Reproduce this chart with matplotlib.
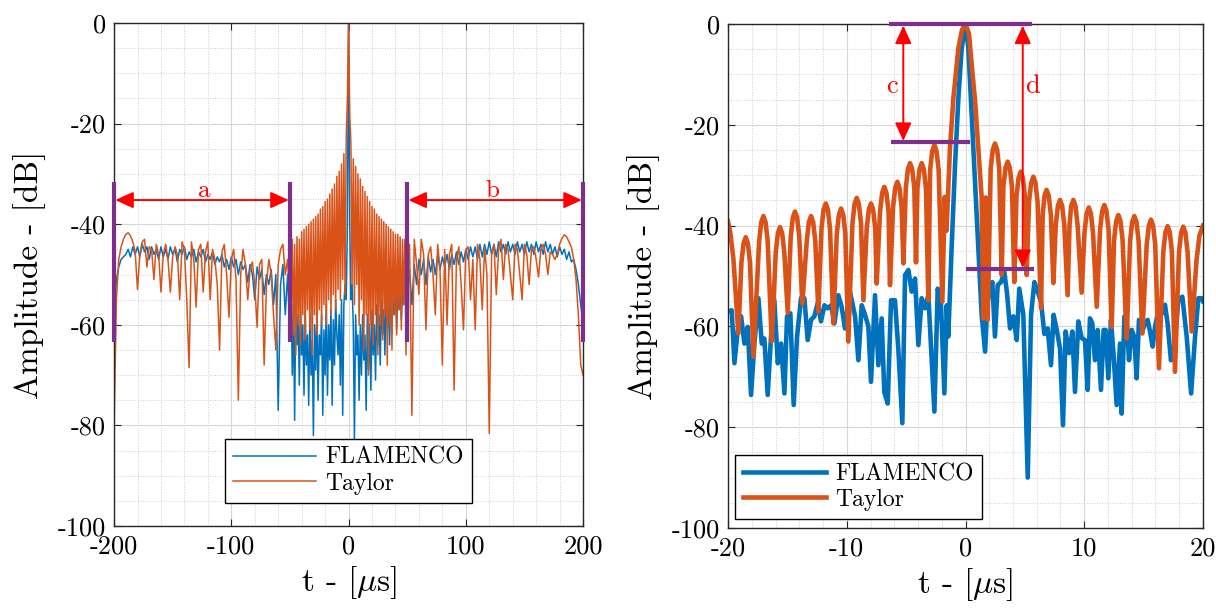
import numpy as np
import matplotlib
matplotlib.use('Agg')
import matplotlib.pyplot as plt
from matplotlib.ticker import MultipleLocator

plt.rcParams['font.family'] = ['cmr10', 'DejaVu Serif']
plt.rcParams['mathtext.fontset'] = 'cm'
plt.rcParams['axes.unicode_minus'] = False
plt.rcParams['axes.formatter.use_mathtext'] = True

# ---------------- left panel: full range, t in us ----------------
t_out_l = np.arange(-200, -49, 2)
t_mid = np.arange(-49, 50, 1)
t_out_r = np.arange(50, 201, 2)

flam_out_l = [-58, -51, -48.5, -47, -46.5, -46, -45, -46.5, -44.5, -46,
              -44.5, -46.5, -44, -45.5, -44.5, -47, -44.5, -46, -45, -47,
              -44.5, -46.5, -45, -47, -44.5, -46, -45, -47.5, -45, -46,
              -44.5, -47, -45.5, -46.5, -45, -47.5, -45.5, -46.5, -45, -47.5,
              -46, -47, -45.5, -48, -46.5, -47.5, -46, -48.5, -47, -49,
              -46.5, -48.5, -47, -50, -47.5, -49, -48, -51.5, -48, -50,
              -55, -48.5, -51, -49, -54, -50, -52, -49, -56, -50,
              -77, -52, -48, -58, -50, -62]
tay_out_l = [-80, -55, -47, -44.5, -43, -42, -41.7, -42.3, -43.5, -45.5,
             -53, -46, -43.5, -43, -48.5, -44.5, -45, -51, -44, -46,
             -53.5, -46, -44, -47, -53.5, -46.5, -44.5, -46, -55, -43.5,
             -45, -55, -68.5, -43.5, -47, -56.5, -45, -44, -53.5, -45.5,
             -43.5, -55, -45, -47, -52, -65, -45.5, -44, -50, -58.5,
             -47, -45, -51, -75, -50, -45, -48, -55, -49, -47.5,
             -52, -60.5, -48, -47, -68, -52, -47, -50, -58, -65,
             -48, -45, -44, -50, -47, -57]

flam_mid = [-52, -70, -56, -79, -55, -64, -58, -72, -56, -66,
            -60, -74, -57, -68, -62, -76, -58, -70, -63, -82,
            -60, -69, -57, -75, -62, -66, -58, -78, -61, -70,
            -56, -74, -60, -67, -57, -76, -59, -68, -55, -62,
            -66, -58, -72, -55, -78, -56, -52, -55, -40, 0,
            -40, -55, -52, -60, -83, -58, -66, -62, -75, -60,
            -70, -58, -67, -62, -77, -58, -69, -60, -73, -57,
            -66, -60, -71, -56, -64, -58, -68, -55, -62, -57,
            -66, -54, -61, -56, -64, -53, -60, -55, -58, -52,
            -61, -54, -57, -51, -59, -53, -56, -50, -55]
tay_mid = [-58, -43, -62, -44, -66, -42.5, -60, -43, -64, -41.5,
           -58, -41, -63, -40.5, -57, -40, -61, -39.5, -66, -39,
           -58, -38.5, -62, -38, -57, -37, -60, -36.5, -56, -35.5,
           -60, -35, -55, -34, -58, -33, -54, -32, -57, -30.5,
           -53, -29.5, -55, -28, -51, -26, -54, -23, -15, 0,
           -18, -24, -52, -27, -56, -28.5, -52, -30, -60, -31,
           -55, -32.5, -65, -33.5, -58, -34.5, -70, -35.5, -60, -36.5,
           -64, -37, -58, -38, -66, -38.5, -60, -39, -63, -39.5,
           -58, -40, -68, -40.5, -60, -41, -65, -41.5, -58, -42,
           -62, -42, -57, -42.5, -61, -43, -56, -43, -66]

flam_out_r = [-55, -49, -56, -48, -52, -47, -50, -47, -52, -46.5,
              -49.5, -47, -50, -46, -49, -46.5, -48.5, -46, -49, -46,
              -48, -45.5, -48, -45.5, -47.5, -45, -47, -44.5, -46.5, -44.5,
              -47, -44, -46.5, -44, -46, -43.5, -46, -44, -46.5, -43.5,
              -45.5, -44, -46, -43.5, -45.5, -44, -46, -43.5, -45.5, -44,
              -46, -43.5, -45.5, -44, -46, -43.5, -45.5, -44, -46, -43.5,
              -45.5, -44, -46, -44.5, -46.5, -44.5, -46, -45, -47, -45.5,
              -47.5, -47, -49, -52, -56, -60]
tay_out_r = [-47, -44, -78, -43, -48, -54, -43, -46, -61, -46,
             -44.5, -50, -58, -44, -49, -68, -45, -60, -46, -44,
             -73, -47, -44.5, -52, -61, -45, -44.5, -55, -47, -61,
             -44, -47, -57, -44.5, -50, -81.6, -46, -44, -54, -45,
             -43, -51, -44, -45, -50, -55, -44, -45, -50, -55,
             -44, -46, -52, -45, -44.5, -47, -50.5, -45, -44, -46,
             -50, -45.5, -46, -47, -46, -44, -42.8, -42.1, -42.5, -43.5,
             -44.5, -47, -51, -58, -68, -70]

# ---------------- right panel: zoom on main lobe ----------------
t_flam_zoom = [-20.0, -19.69, -19.46, -19.18, -18.9, -18.62, -18.34, -18.06, -17.78, -17.44,
               -17.16, -16.94, -16.66, -16.38, -16.1, -15.81, -15.53, -15.25, -15.03, -14.75,
               -14.47, -14.19, -13.85, -13.57, -13.29, -13.01, -12.73, -12.45, -12.17, -11.88,
               -11.6, -11.32, -11.04, -10.71, -10.43,
               -10.15, -9.73, -9.3, -9.02, -8.74, -8.46, -8.18, -7.96, -7.62, -7.34,
               -7.06, -6.84, -6.55, -6.27, -5.94, -5.66, -5.32, -5.09, -4.81, -4.53,
               -4.25, -3.97, -3.69, -3.41, -3.13, -2.9, -2.62, -2.34, -2.06, -1.78, -1.58,
               -1.45, -1.17, -0.88, -0.6, -0.32, 0.0, 0.24, 0.52, 0.8, 1.08, 1.36, 1.65, 1.85,
               2.06, 2.26, 2.48, 2.71, 2.99, 3.27, 3.5, 3.75, 4.03, 4.31,
               4.53, 4.87, 5.24, 5.52, 5.8, 6.08, 6.36, 6.64, 6.92, 7.2,
               7.42, 7.71, 7.96, 8.21, 8.43, 8.72, 9.0, 9.22, 9.5, 9.78,
               10.06, 10.29, 10.48, 10.68, 10.9, 11.13, 11.41, 11.63, 11.8, 12.03,
               12.25, 12.48, 12.73, 13.01, 13.15, 13.38, 13.57, 13.77, 14.0, 14.22,
               14.41, 14.61, 14.89, 15.12, 15.34, 15.57, 15.76, 15.96, 16.24, 16.58,
               16.8, 17.02, 17.3, 17.58, 17.92, 18.26, 18.63, 19.0, 19.33, 19.61,
               19.89, 20.0]
flam_zoom = [-57, -56.8, -67.3, -60.7, -58, -63.4, -60.1, -73.6, -63.4, -54.4,
             -63.4, -62.4, -73.6, -62.1, -54.8, -67.3, -63.4, -73.3, -58, -57.4,
             -75.6, -62.1, -54.4, -54.4, -62.7, -58.7, -58, -55.4, -59, -55.8,
             -56.4, -55.8, -59.4, -53.8, -56.1,
             -60.4, -53.1, -58, -66.7, -55.8, -57.7, -60, -71, -53.8, -67.7,
             -58.4, -73, -75.3, -54.8, -54.8, -64.4, -79.2, -49.8, -48.8, -53.1,
             -50.5, -63.7, -54.4, -56.4, -53.8, -64.4, -76.9, -52.5, -55.8, -73.3, -55.8,
             -62, -44.5, -27.9, -14.7, -4.8, 0, -4.8, -18, -31.3, -44.5, -57.7, -65, -55,
             -53.1, -51.2, -62, -51.8, -51.2, -49.2, -53.5, -60.4, -58, -62.7,
             -52.5, -57.7, -90, -57.7, -51.2, -53.1, -55.1, -61.5, -60.4, -67.7,
             -57.7, -61, -64.4, -79.6, -61, -65.3, -61, -73, -59, -62.3,
             -62.7, -72.6, -58.4, -59.4, -66.7, -60.7, -72.6, -60.7, -60.7, -70.3,
             -58.7, -66, -75.6, -63.4, -77.3, -58, -58, -66.7, -60.7, -62.1,
             -70.3, -58.7, -61, -59.4, -58.7, -61.4, -64, -60.1, -56.8, -57.4,
             -55.7, -59.4, -66.7, -64, -54.8, -54.1, -62.1, -73.3, -62.1, -54.4,
             -54.4, -55]

# Taylor: each row is one sidelobe arch followed by the null after it
t_tay_zoom = [-20.0, -19.8, -19.55, -19.13,
              -18.87, -18.69, -18.51, -18.33, -18.15, -17.86,
              -17.38, -17.2, -17.02, -16.84, -16.66, -16.32,
              -15.98, -15.8, -15.62, -15.44, -15.26, -14.97,
              -14.72, -14.54, -14.36, -14.18, -14.0, -13.74,
              -13.37, -13.19, -13.01, -12.83, -12.65, -12.39,
              -12.13, -11.95, -11.77, -11.59, -11.41, -11.13,
              -10.84, -10.66, -10.48, -10.3, -10.12, -9.87,
              -9.52, -9.34, -9.16, -8.98, -8.8, -8.6,
              -8.32, -8.14, -7.96, -7.78, -7.6, -7.48,
              -7.2, -7.02, -6.84, -6.66, -6.48, -6.36,
              -6.1, -5.92, -5.74, -5.56, -5.38, -5.23,
              -5.03, -4.85, -4.67, -4.49, -4.31, -4.17,
              -4.05, -3.87, -3.69, -3.51, -3.33, -3.13,
              -2.98, -2.8, -2.62, -2.44, -2.26, -1.95,
              -1.75, -1.6, -1.31, -1.02, -0.6, -0.3, 0.0, 0.3, 0.52, 0.8,
              1.08, 1.36, 1.5, 1.7, 1.87,
              2.12, 2.3, 2.48, 2.66, 2.84, 3.05,
              3.19, 3.37, 3.55, 3.73, 3.91, 4.11,
              4.29, 4.47, 4.65, 4.83, 5.01, 5.15,
              5.35, 5.53, 5.71, 5.89, 6.07, 6.36,
              6.5, 6.65, 6.83, 7.01, 7.19, 7.4,
              7.6, 7.78, 7.96, 8.14, 8.32, 8.6,
              8.76, 8.9, 9.08, 9.26, 9.44, 9.78,
              10.02, 10.2, 10.38, 10.56, 10.74, 11.05,
              11.33, 11.51, 11.69, 11.87, 12.05, 12.31,
              12.51, 12.69, 12.87, 13.05, 13.23, 13.57,
              13.86, 14.04, 14.22, 14.4, 14.58, 14.89,
              15.26, 15.44, 15.62, 15.8, 15.98, 16.29,
              16.66, 16.84, 17.02, 17.2, 17.38, 17.64,
              17.98, 18.16, 18.34, 18.52, 18.7, 19.05,
              19.45, 19.7, 20.0]
tay_zoom = [-39.2, -41.5, -46.5, -61.4,
            -47.3, -43.5, -42.3, -43.5, -47.3, -66,
            -43.1, -39.3, -38.1, -39.3, -43.1, -63,
            -45.3, -41.5, -40.3, -41.5, -45.3, -57.3,
            -42.2, -38.4, -37.2, -38.4, -42.2, -55.5,
            -43.1, -39.3, -38.1, -39.3, -43.1, -57.1,
            -40.6, -36.8, -35.6, -36.8, -40.6, -59.4,
            -41.6, -37.8, -36.6, -37.8, -41.6, -63,
            -39.5, -35.7, -34.5, -35.7, -39.5, -54.8,
            -40.6, -36.8, -35.6, -36.8, -40.6, -51.5,
            -37.3, -33.5, -32.3, -33.5, -37.3, -51.8,
            -36.3, -32.5, -31.3, -32.5, -36.3, -47.5,
            -32.6, -28.8, -27.6, -28.8, -32.6, -47.3,
            -32.6, -28.8, -27.6, -28.8, -32.6, -54.8,
            -29, -25.2, -24, -25.2, -29, -55.1,
            -34.3, -41, -24.7, -14.7, -4.8, -1.2, 0, -2, -8.1, -15,
            -24.7, -34.4, -58.4, -34.4, -58.7,
            -28.7, -24.9, -23.7, -24.9, -28.7, -49.8,
            -32.3, -28.5, -27.3, -28.5, -32.3, -51.2,
            -34.3, -30.5, -29.3, -30.5, -34.3, -49.8,
            -35.3, -31.5, -30.3, -31.5, -35.3, -56.4,
            -37.9, -34.1, -32.9, -34.1, -37.9, -51.4,
            -39.9, -36.1, -34.9, -36.1, -39.9, -53.8,
            -39.9, -36.1, -34.9, -36.1, -39.9, -53.3,
            -41.4, -37.6, -36.4, -37.6, -41.4, -56.1,
            -40.9, -37.1, -35.9, -37.1, -40.9, -60.1,
            -42.9, -39.1, -37.9, -39.1, -42.9, -62.4,
            -43.1, -39.3, -38.1, -39.3, -43.1, -61.4,
            -43.8, -40, -38.8, -40, -43.8, -68.3,
            -45.1, -41.3, -40.1, -41.3, -45.1, -69,
            -45.2, -41.4, -40.2, -41.4, -45.2, -61,
            -47, -42, -40]

blue = '#0072BD'
orange = '#D95319'
purple = '#7E2F8E'

t_left = np.concatenate([t_out_l, t_mid, t_out_r])
flam_left = np.concatenate([flam_out_l, flam_mid, flam_out_r])
tay_left = np.concatenate([tay_out_l, tay_mid, tay_out_r])

fig = plt.figure(figsize=(12.16, 6.1), dpi=100)
ax1 = fig.add_axes([0.0938, 0.1377, 0.3857, 0.8246])
ax2 = fig.add_axes([0.5987, 0.1344, 0.3906, 0.8262])


def style_axes(ax, xmaj, xmin):
    ax.set_ylim(-100, 0)
    ax.xaxis.set_major_locator(MultipleLocator(xmaj))
    ax.xaxis.set_minor_locator(MultipleLocator(xmin))
    ax.yaxis.set_major_locator(MultipleLocator(20))
    ax.yaxis.set_minor_locator(MultipleLocator(5))
    ax.grid(which='major', color='#d6d6d6', linewidth=0.8, linestyle='-')
    ax.grid(which='minor', color='#cccccc', linewidth=0.7, linestyle=':')
    ax.set_axisbelow(True)
    ax.tick_params(which='major', direction='in', length=5, width=0.8,
                   top=True, right=True, labelsize=19, pad=6, color='#262626')
    ax.tick_params(which='minor', length=0, top=True, right=True)
    for s in ax.spines.values():
        s.set_color('#262626')
        s.set_linewidth(1.0)
    ax.set_ylabel('Amplitude - [dB]', fontsize=24, labelpad=8)
    ax.set_xlabel('t - [$\\mu$s]', fontsize=24, labelpad=4)


# left panel
ax1.plot(t_left, flam_left, color=blue, linewidth=1.1, label='FLAMENCO')
ax1.plot(t_left, tay_left, color=orange, linewidth=1.1, label='Taylor')
ax1.set_xlim(-200, 200)
style_axes(ax1, 100, 20)
ax1.set_xticks([-200, -100, 0, 100, 200])
ax1.set_xticklabels(['-200', '-100', '0', '100', '200'])
ax1.set_yticks([-100, -80, -60, -40, -20, 0])
ax1.set_yticklabels(['-100', '-80', '-60', '-40', '-20', '0'])

for xv in [-200, -50, 50, 200]:
    ax1.plot([xv, xv], [-31.6, -63.4], color=purple, linewidth=3,
             solid_capstyle='butt', clip_on=False, zorder=5)
arrow_kw = dict(arrowstyle='<|-|>,head_length=0.55,head_width=0.25',
                color='red', lw=1.4, mutation_scale=20, shrinkA=0, shrinkB=0)
ax1.annotate('', xy=(-51, -35.2), xytext=(-199, -35.2), arrowprops=arrow_kw, zorder=6)
ax1.annotate('', xy=(199, -35.2), xytext=(51, -35.2), arrowprops=arrow_kw, zorder=6)
ax1.text(-122.7, -34.6, 'a', color='red', fontsize=18, ha='center', va='baseline')
ax1.text(122.2, -34.6, 'b', color='red', fontsize=18, ha='center', va='baseline')

leg1 = ax1.legend(loc='lower center', bbox_to_anchor=(0.5, 0.046), borderaxespad=0,
                  fontsize=17, handlelength=3.5, handletextpad=0.4, borderpad=0.35,
                  labelspacing=0.15, fancybox=False, framealpha=1, edgecolor='black')
leg1.get_frame().set_linewidth(1.0)

# right panel
ax2.plot(t_flam_zoom, flam_zoom, color=blue, linewidth=3.3, label='FLAMENCO')
ax2.plot(t_tay_zoom, tay_zoom, color=orange, linewidth=3.3, label='Taylor')
ax2.set_xlim(-20, 20)
style_axes(ax2, 10, 2)
ax2.set_xticks([-20, -10, 0, 10, 20])
ax2.set_xticklabels(['-20', '-10', '0', '10', '20'])
ax2.set_yticks([-100, -80, -60, -40, -20, 0])
ax2.set_yticklabels(['-100', '-80', '-60', '-40', '-20', '0'])

ax2.plot([-6.45, 5.57], [0, 0], color=purple, linewidth=3, solid_capstyle='butt',
         clip_on=False, zorder=5)
ax2.plot([-6.29, 0.34], [-23.5, -23.5], color=purple, linewidth=3, solid_capstyle='butt',
         clip_on=False, zorder=5)
ax2.plot([0.08, 5.8], [-48.7, -48.7], color=purple, linewidth=3, solid_capstyle='butt',
         clip_on=False, zorder=5)
ax2.annotate('', xy=(-5.24, -23.2), xytext=(-5.24, -0.3), arrowprops=arrow_kw, zorder=6)
ax2.annotate('', xy=(4.82, -48.4), xytext=(4.82, -0.3), arrowprops=arrow_kw, zorder=6)
ax2.text(-6.22, -13.7, 'c', color='red', fontsize=19, ha='center', va='baseline')
ax2.text(5.65, -13.7, 'd', color='red', fontsize=19, ha='center', va='baseline')

leg2 = ax2.legend(loc='lower left', bbox_to_anchor=(0.015, 0.018), borderaxespad=0,
                  fontsize=17, handlelength=3.5, handletextpad=0.4, borderpad=0.35,
                  labelspacing=0.15, fancybox=False, framealpha=1, edgecolor='black')
leg2.get_frame().set_linewidth(1.0)

fig.savefig('out.png', dpi=100)
